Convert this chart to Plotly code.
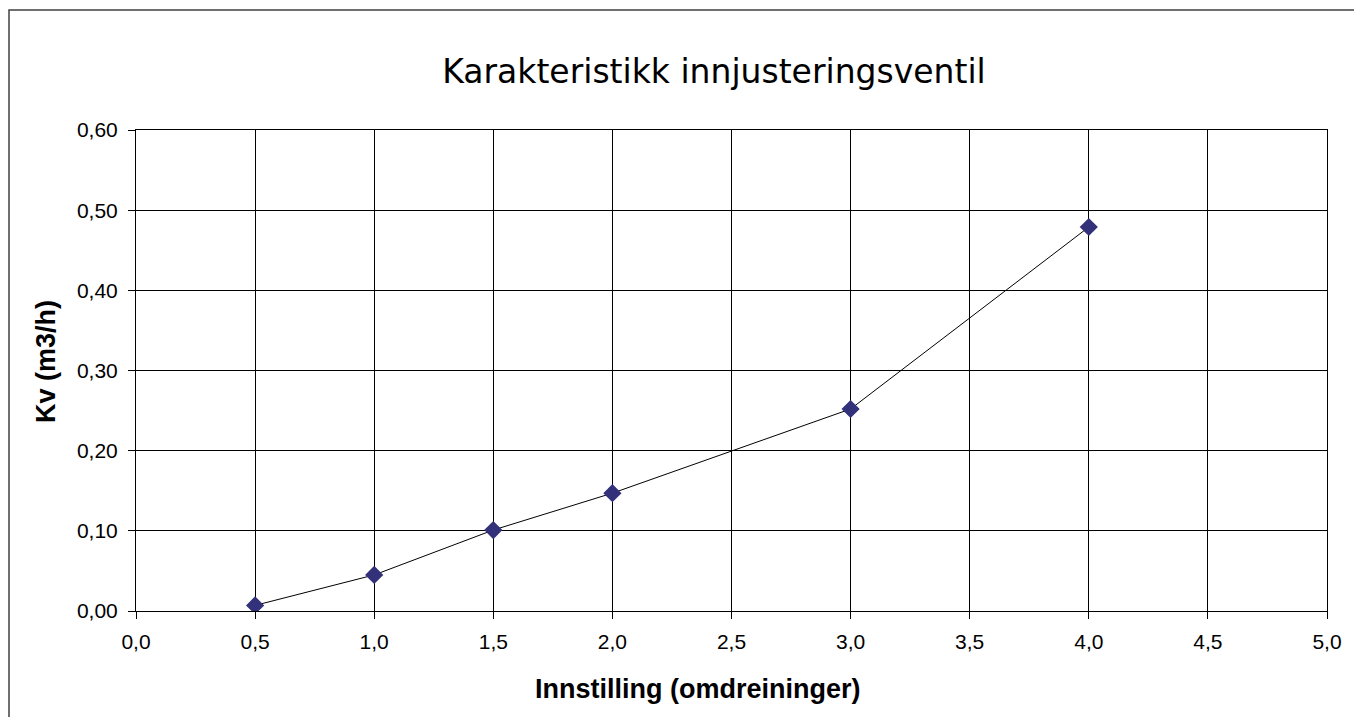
import plotly.graph_objects as go

# Data
settings = [0.5, 1.0, 1.5, 2.0, 3.0, 4.0]
kv_values = [0.007, 0.045, 0.101, 0.147, 0.252, 0.479]

x_tick_vals = [0.0, 0.5, 1.0, 1.5, 2.0, 2.5, 3.0, 3.5, 4.0, 4.5, 5.0]
x_tick_labels = ["0,0", "0,5", "1,0", "1,5", "2,0", "2,5", "3,0", "3,5", "4,0", "4,5", "5,0"]
y_tick_vals = [0.0, 0.1, 0.2, 0.3, 0.4, 0.5, 0.6]
y_tick_labels = ["0,00", "0,10", "0,20", "0,30", "0,40", "0,50", "0,60"]

title_text = "Karakteristikk innjusteringsventil"
x_title = "Innstilling (omdreininger)"
y_title = "Kv (m3/h)"

# The page body has an 8px default margin; compensate for it.
OFF = 8
W, H = 1362 - OFF, 717 - OFF
L, R, T, B = 136 - OFF, 35, 130 - OFF, 106
pw, ph = W - L - R, H - T - B


def px(x):
    """Reference-screen x pixel -> paper coordinate."""
    return (x - OFF - L) / pw


def py(y):
    """Reference-screen y pixel -> paper coordinate."""
    return (H - B - (y - OFF)) / ph


fig = go.Figure()
fig.add_trace(go.Scatter(
    x=settings, y=kv_values, mode="lines+markers",
    line=dict(color="black", width=1),
    marker=dict(symbol="diamond", size=14, color="#32317A", line=dict(width=0)),
    showlegend=False, hoverinfo="x+y",
))

axis_common = dict(
    showgrid=True, gridcolor="black", gridwidth=1,
    showline=True, linecolor="black", linewidth=1, mirror=True,
    ticks="outside", ticklen=7, tickcolor="black", tickwidth=1,
    tickfont=dict(family="Liberation Sans, Arial, sans-serif", size=21, color="black"),
    zeroline=False, fixedrange=True,
)

fig.update_xaxes(range=[0, 5], tickvals=x_tick_vals, ticktext=x_tick_labels,
                 ticklabelstandoff=5, **axis_common)
fig.update_yaxes(range=[0, 0.6], tickvals=y_tick_vals, ticktext=y_tick_labels,
                 ticklabelstandoff=6, **axis_common)

fig.update_layout(
    width=W, height=H,
    margin=dict(l=L, r=R, t=T, b=B, pad=0),
    paper_bgcolor="white", plot_bgcolor="white",
    title=dict(
        text=title_text, x=px(714), xref="paper", xanchor="center",
        y=1 - (71 - OFF) / H, yref="container", yanchor="middle",
        font=dict(family="DejaVu Sans, sans-serif", size=33, color="black"),
    ),
    annotations=[
        dict(text="<b>" + x_title + "</b>", xref="paper", yref="paper",
             x=px(698), y=py(689), xanchor="center", yanchor="middle", showarrow=False,
             font=dict(family="Liberation Sans, Arial, sans-serif", size=27, color="black")),
        dict(text="<b>" + y_title + "</b>", xref="paper", yref="paper",
             x=px(46), y=py(361), xanchor="center", yanchor="middle", showarrow=False,
             textangle=-90,
             font=dict(family="Liberation Sans, Arial, sans-serif", size=27, color="black")),
    ],
    shapes=[
        dict(type="path", xref="paper", yref="paper",
             path=f"M {px(9)} {py(740)} L {px(9)} {py(10)} L {px(1390)} {py(10)}",
             line=dict(color="#404040", width=1.5)),
    ],
)

fig.write_html("out.html")
